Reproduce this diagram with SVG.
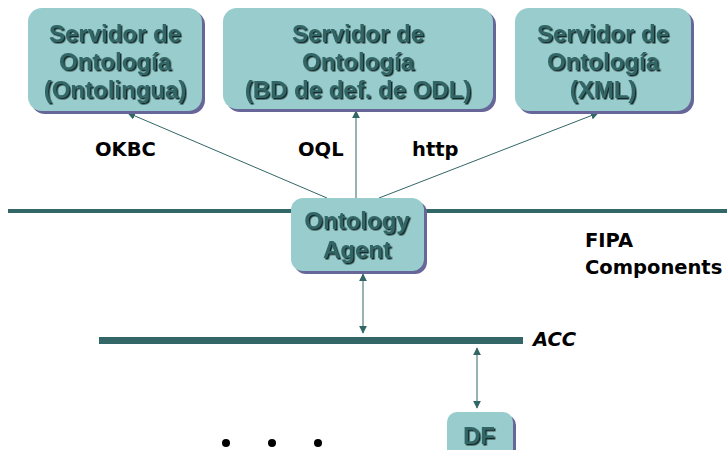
<svg xmlns="http://www.w3.org/2000/svg" width="727" height="450" viewBox="0 0 727 450">
  <defs>
    <style>
      .box { fill: #99cccc; }
      .shade { fill: #666699; }
      .btxt { font-family: "Liberation Sans", Arial, sans-serif; font-weight: bold; font-size: 24px; fill: #336666; text-anchor: middle; filter: url(#tshadow); }
      .lbl { font-family: "DejaVu Sans", sans-serif; font-weight: bold; font-size: 19.5px; fill: #000; }
      .wire { stroke: #336666; stroke-width: 1; fill: none; }
      .bus { stroke: #336666; fill: none; }
    </style>
    <filter id="tshadow" x="-10%" y="-20%" width="120%" height="150%">
      <feDropShadow dx="1.5" dy="1.5" stdDeviation="0.3" flood-color="#142a2a" flood-opacity="1"/>
    </filter>
    <marker id="arr" viewBox="0 0 10 10" refX="9" refY="5" markerWidth="8" markerHeight="8" markerUnits="userSpaceOnUse" orient="auto-start-reverse">
      <path d="M0,0 L10,5 L0,10 Z" fill="#336666"/>
    </marker>
  </defs>

  <!-- buses -->
  <g id="buses">
    <line class="bus" x1="8" y1="211" x2="727" y2="211" stroke-width="4"/>
    <line class="bus" x1="99" y1="340.5" x2="523" y2="340.5" stroke-width="7"/>
  </g>

  <!-- connectors -->
  <g id="connectors">
    <line class="wire" x1="327" y1="198" x2="128" y2="113" marker-end="url(#arr)"/>
    <line class="wire" x1="356" y1="198" x2="356" y2="111" marker-end="url(#arr)"/>
    <line class="wire" x1="379" y1="198" x2="598" y2="113" marker-end="url(#arr)"/>
    <line class="wire" x1="363" y1="274" x2="363" y2="333" marker-start="url(#arr)" marker-end="url(#arr)"/>
    <line class="wire" x1="477" y1="348" x2="477" y2="408" marker-start="url(#arr)" marker-end="url(#arr)"/>
  </g>

  <g id="server-ontolingua">
    <rect class="shade" x="31" y="11" width="174" height="103" rx="14"/>
    <rect class="box" x="28" y="8" width="174" height="103" rx="14"/>
    <text class="btxt" x="115" y="42">Servidor de</text>
    <text class="btxt" x="115" y="70">Ontología</text>
    <text class="btxt" x="115" y="98">(Ontolingua)</text>
  </g>

  <g id="server-odl">
    <rect class="shade" x="226" y="11" width="270" height="101" rx="14"/>
    <rect class="box" x="223" y="8" width="270" height="101" rx="14"/>
    <text class="btxt" x="358" y="42">Servidor de</text>
    <text class="btxt" x="358" y="70">Ontología</text>
    <text class="btxt" x="358" y="98">(BD de def. de ODL)</text>
  </g>

  <g id="server-xml">
    <rect class="shade" x="518" y="11" width="176" height="103" rx="14"/>
    <rect class="box" x="515" y="8" width="176" height="103" rx="14"/>
    <text class="btxt" x="603" y="42">Servidor de</text>
    <text class="btxt" x="603" y="70">Ontología</text>
    <text class="btxt" x="603" y="98">(XML)</text>
  </g>

  <g id="ontology-agent">
    <rect class="shade" x="294" y="201" width="133" height="73" rx="12"/>
    <rect class="box" x="291" y="198" width="133" height="73" rx="12"/>
    <text class="btxt" x="357" y="229">Ontology</text>
    <text class="btxt" x="357" y="258">Agent</text>
  </g>

  <g id="df">
    <rect class="shade" x="450" y="415" width="66" height="50" rx="10"/>
    <rect class="box" x="447" y="412" width="66" height="50" rx="10"/>
    <text class="btxt" x="479" y="444">DF</text>
  </g>

  <!-- protocol and component labels -->
  <g id="labels">
    <text class="lbl" x="95" y="156">OKBC</text>
    <text class="lbl" x="298" y="156">OQL</text>
    <text class="lbl" x="412" y="156">http</text>
    <text class="lbl" x="585" y="247">FIPA</text>
    <text class="lbl" x="585" y="274" font-size="18.8px">Components</text>
    <text class="lbl" x="533" y="346" font-style="italic">ACC</text>
  </g>

  <!-- ellipsis -->
  <g id="ellipsis" fill="#000">
    <circle cx="226" cy="443" r="4"/>
    <circle cx="272" cy="443" r="4"/>
    <circle cx="318" cy="443" r="4"/>
  </g>
</svg>
